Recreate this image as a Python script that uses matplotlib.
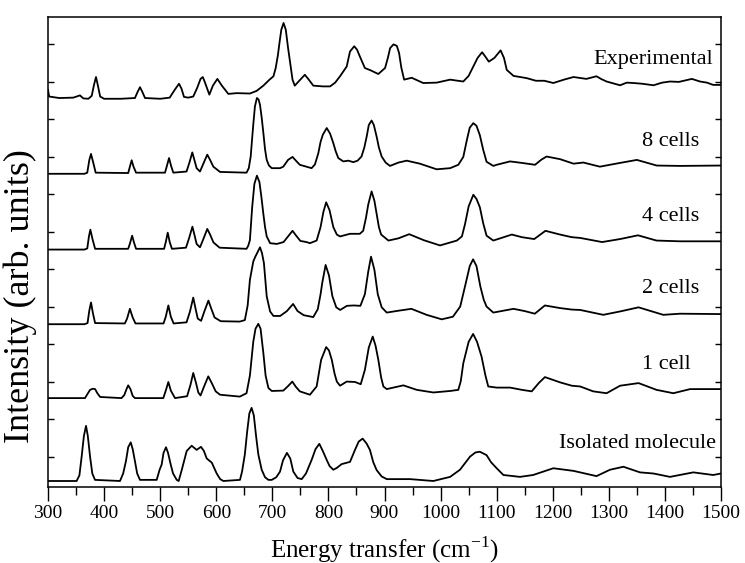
import numpy as np
import matplotlib
matplotlib.use('Agg')
import matplotlib.pyplot as plt
from matplotlib.ticker import MultipleLocator

# spectra: (energy transfer in cm-1, intensity above own baseline)
exp_pts = [(300, 0.22), (302, 0.04), (320, 0), (345, 0.01), (357, 0.07), (363, -0.01), (372, -0.02),
           (378, 0.06), (382, 0.35), (385.6, 0.56), (389, 0.33), (393, 0.04), (400, -0.02), (430, -0.02),
           (455, 0), (460, 0.17), (464, 0.29), (468, 0.17), (473, 0), (500, -0.02), (517, 0.01),
           (526, 0.22), (533.6, 0.38), (538, 0.25), (542.5, 0.03), (550, 0.01), (559, 0.04), (566, 0.27),
           (572, 0.51), (576, 0.56), (580, 0.41), (587.7, 0.09), (594, 0.33), (602, 0.51), (610, 0.33),
           (621.5, 0.11), (636.5, 0.13), (660, 0.12), (672, 0.19), (684, 0.33), (695, 0.49), (702, 0.58),
           (706, 0.8), (710, 1.15), (713, 1.5), (716, 1.82), (720, 2.0), (724, 1.82), (728, 1.34),
           (731.5, 0.97), (736, 0.49), (740, 0.33), (748, 0.46), (758, 0.62), (765, 0.49), (773, 0.33),
           (790, 0.31), (803, 0.31), (812, 0.41), (820.7, 0.58), (832.6, 0.84), (838.5, 1.24), (846, 1.38),
           (851, 1.29), (856, 1.11), (865, 0.8), (875, 0.74), (889, 0.64), (901, 0.8), (906, 1.07),
           (910, 1.33), (916, 1.43), (922, 1.39), (926, 1.2), (930, 0.81), (935, 0.49), (948.5, 0.54),
           (969, 0.4), (993, 0.41), (1017, 0.49), (1040.5, 0.44), (1050, 0.59), (1058, 0.83), (1066, 1.07),
           (1074, 1.22), (1080, 1.1), (1086, 0.97), (1096, 1.07), (1107, 1.27), (1113, 1.07), (1118, 0.75),
           (1130, 0.59), (1153.6, 0.53), (1170, 0.46), (1185, 0.46), (1201, 0.4), (1220, 0.49), (1237, 0.56),
           (1260, 0.51), (1278, 0.58), (1286, 0.51), (1296, 0.44), (1320, 0.34), (1332, 0.41), (1344, 0.4),
           (1360, 0.38), (1379.6, 0.34), (1395, 0.41), (1409, 0.44), (1425, 0.43), (1448, 0.51),
           (1462.6, 0.44), (1475, 0.41), (1486, 0.35), (1500, 0.35)]

cell8_pts = [(300, 0), (365, 0), (370, 0.03), (373.7, 0.37), (376.7, 0.53), (380.8, 0.29), (385, 0.03),
             (443, 0.02), (446, 0.19), (449.2, 0.36), (452.5, 0.19), (457, 0.03), (508.6, 0.03), (512, 0.21),
             (515.8, 0.42), (519.5, 0.21), (523.4, 0.03), (547, 0.06), (552, 0.29), (557.3, 0.57), (561, 0.37),
             (565, 0.15), (571, 0.06), (577, 0.27), (584, 0.51), (589, 0.37), (594.8, 0.19), (606.7, 0.05),
             (654, 0.03), (658, 0.15), (661.4, 0.46), (663.5, 0.85), (666, 1.31), (669, 1.8), (672.5, 2.02),
             (675.5, 1.98), (678, 1.84), (681, 1.5), (684, 1.09), (687, 0.65), (690, 0.37), (694, 0.22),
             (699, 0.15), (713.7, 0.15), (719.6, 0.19), (728, 0.37), (736, 0.45), (742, 0.35), (749, 0.24),
             (770, 0.15), (776, 0.25), (782, 0.55), (786, 0.85), (790, 1.04), (797, 1.22), (803, 1.07),
             (808.7, 0.82), (813, 0.6), (817.6, 0.42), (826.5, 0.33), (835.5, 0.35), (844.4, 0.31), (852, 0.35),
             (859, 0.46), (864, 0.7), (868.2, 0.99), (872, 1.3), (877, 1.42), (881, 1.3), (886, 0.99), (890, 0.7),
             (895, 0.46), (902, 0.3), (909.8, 0.21), (925, 0.3), (939.6, 0.35), (963, 0.27), (993, 0.12),
             (1017, 0.15), (1031.6, 0.24), (1040.5, 0.45), (1047, 0.91), (1052, 1.23), (1058.4, 1.35),
             (1064, 1.28), (1070, 1.03), (1076, 0.64), (1082, 0.32), (1094, 0.21), (1100, 0.24),
             (1123.8, 0.33), (1145, 0.29), (1168.4, 0.24), (1180, 0.38), (1189, 0.46), (1213, 0.39),
             (1237, 0.27), (1254.6, 0.3), (1284, 0.19), (1320, 0.29), (1350, 0.37), (1385.4, 0.22),
             (1427, 0.21), (1500, 0.22)]

cell4_pts = [(300, 0), (365, 0), (370, 0.03), (373, 0.35), (375.5, 0.53), (379.5, 0.27), (384, 0.02),
             (443, 0.02), (446.5, 0.18), (450, 0.37), (453.5, 0.18), (457, 0.02), (507, 0.02), (510, 0.2),
             (513.5, 0.45), (517, 0.2), (521, 0.02), (546, 0.05), (551.5, 0.3), (557.5, 0.61), (561, 0.4),
             (565, 0.15), (571, 0.06), (577, 0.28), (584, 0.55), (589, 0.4), (595, 0.19), (606, 0.05),
             (654, 0.02), (657, 0.1), (660, 0.25), (664, 1.12), (668, 1.75), (672.5, 1.97), (677, 1.8),
             (680.5, 1.4), (684, 0.95), (687, 0.6), (690, 0.35), (696, 0.17), (708, 0.15), (720, 0.2),
             (728, 0.35), (736, 0.5), (742, 0.38), (750, 0.23), (761, 0.2), (767, 0.17), (779, 0.24),
             (786, 0.6), (791, 1.0), (796, 1.26), (802, 1.05), (808.7, 0.6), (815, 0.4), (820.7, 0.35),
             (838.5, 0.42), (856, 0.42), (862, 0.5), (867, 0.85), (871, 1.2), (877, 1.55), (882, 1.3),
             (886, 0.95), (890, 0.6), (894, 0.4), (907, 0.24), (925, 0.3), (944, 0.41), (970, 0.25),
             (999, 0.11), (1029, 0.24), (1038, 0.35), (1043.6, 0.68), (1050, 1.15), (1058.4, 1.46),
             (1064, 1.35), (1070, 1.13), (1076, 0.7), (1082, 0.37), (1094, 0.24), (1127, 0.4), (1145, 0.33),
             (1167, 0.28), (1187, 0.5), (1213, 0.4), (1234, 0.33), (1249, 0.31), (1288, 0.2), (1320, 0.28),
             (1352, 0.38), (1385, 0.24), (1427, 0.22), (1500, 0.22)]

cell2_pts = [(300, 0), (365, 0), (370.5, 0.03), (373.5, 0.35), (376.7, 0.58), (380, 0.3), (384, 0.03),
             (437, 0.02), (441, 0.15), (446, 0.41), (451, 0.18), (456, 0.02), (506, 0.02), (510, 0.2),
             (514.6, 0.5), (519, 0.2), (524, 0.02), (547, 0.05), (553, 0.33), (559, 0.71), (563, 0.42),
             (567, 0.15), (573, 0.09), (579, 0.35), (586, 0.63), (591, 0.42), (597, 0.18), (608, 0.08),
             (642, 0.07), (651, 0.11), (656, 0.5), (660, 1.18), (666, 1.67), (669, 1.78), (673, 1.9),
             (678, 2.05), (681.5, 1.9), (685, 1.63), (690, 0.74), (696, 0.34), (702, 0.22), (714, 0.22),
             (726, 0.35), (737, 0.54), (745, 0.35), (756, 0.24), (773, 0.19), (781, 0.4), (786, 0.8),
             (789, 1.1), (795, 1.58), (801, 1.3), (807, 0.75), (814, 0.45), (821, 0.38), (833, 0.49),
             (845, 0.5), (857, 0.49), (865, 0.8), (871, 1.4), (876, 1.8), (882, 1.45), (888, 0.8), (895, 0.45),
             (904, 0.31), (925, 0.36), (948, 0.41), (975, 0.25), (1002, 0.13), (1022, 0.2), (1035, 0.47),
             (1045, 1.1), (1052, 1.55), (1058, 1.73), (1064, 1.55), (1071, 1.0), (1077, 0.65), (1082, 0.47),
             (1094, 0.31), (1130, 0.41), (1150, 0.35), (1168, 0.28), (1186, 0.5), (1213, 0.43), (1234, 0.39),
             (1249, 0.38), (1290, 0.25), (1320, 0.34), (1353, 0.45), (1397, 0.25), (1427, 0.28), (1500, 0.27)]

cell1_pts = [(300, 0), (366, 0), (370, 0.1), (375, 0.22), (380, 0.25), (384, 0.24), (388, 0.13), (393, 0.03),
             (431, 0), (436, 0.08), (440, 0.24), (443, 0.34), (447, 0.24), (451, 0.06), (455, 0), (505.6, 0),
             (510, 0.2), (514.6, 0.43), (519, 0.2), (526.5, 0), (548, 0.05), (554, 0.35), (559, 0.67),
             (564, 0.4), (568, 0.15), (572, 0.07), (578, 0.3), (585.8, 0.58), (592, 0.4), (599, 0.18),
             (606.7, 0.09), (642, 0.04), (654, 0.13), (660, 0.6), (666, 1.5), (670, 1.85), (675, 1.98),
             (679, 1.85), (684, 1.2), (688, 0.6), (693, 0.27), (699, 0.19), (719.6, 0.2), (728, 0.32),
             (735.6, 0.44), (742, 0.3), (749, 0.18), (767, 0.09), (779, 0.31), (787, 1.02), (796, 1.36),
             (801, 1.27), (806, 1.02), (811, 0.65), (815, 0.44), (820.7, 0.33), (832.6, 0.44), (847.4, 0.43),
             (857.6, 0.37), (865, 0.75), (872, 1.35), (879, 1.64), (884, 1.4), (889, 1.02), (894, 0.55),
             (898, 0.31), (904, 0.24), (933.6, 0.34), (957.5, 0.22), (987, 0.15), (1017, 0.19), (1031.6, 0.22),
             (1036, 0.45), (1040.5, 0.93), (1050, 1.5), (1058, 1.71), (1065, 1.5), (1073, 1.11), (1080, 0.6),
             (1085, 0.31), (1100, 0.28), (1124, 0.28), (1145, 0.22), (1162.5, 0.18), (1175, 0.4), (1186, 0.56),
             (1213, 0.42), (1234, 0.33), (1249, 0.31), (1272, 0.18), (1296, 0.13), (1320, 0.33), (1353, 0.4),
             (1385, 0.22), (1415, 0.13), (1445, 0.24), (1500, 0.24)]

iso_pts = [(300, 0), (351, 0), (356, 0.15), (360, 0.65), (364, 1.2), (367.8, 1.47), (371, 1.2), (375, 0.65),
           (379, 0.2), (383.8, 0.03), (428.4, 0), (434, 0.2), (439, 0.53), (443, 0.9), (447.5, 1.03),
           (451, 0.85), (455, 0.53), (459, 0.2), (464, 0.03), (493.8, 0.03), (499, 0.3), (502.7, 0.44),
           (506, 0.75), (510.4, 0.9), (514, 0.75), (518.8, 0.44), (523, 0.2), (529.5, 0.03), (533, 0.0),
           (538.4, 0.29), (547.3, 0.8), (556.2, 0.94), (565, 0.83), (572.8, 0.91), (578, 0.8), (583, 0.6),
           (592, 0.49), (600.8, 0.2), (607, 0.05), (612.6, 0), (642.3, 0.03), (646, 0.25), (651, 0.71),
           (655, 1.3), (659, 1.8), (663, 1.95), (667, 1.75), (671, 1.2), (675, 0.71), (681, 0.3), (687, 0.1),
           (693, 0.03), (699, 0.03), (707, 0.1), (713.7, 0.25), (719, 0.55), (726, 0.75), (732, 0.6),
           (737.4, 0.25), (745, 0.08), (752.4, 0.05), (760, 0.2), (770, 0.56), (777, 0.85), (783.8, 0.99),
           (790, 0.8), (797, 0.56), (802, 0.4), (808.7, 0.3), (815, 0.35), (823.6, 0.45), (838.5, 0.51),
           (847.4, 0.83), (854, 1.05), (861, 1.13), (868, 1.0), (874, 0.83), (880, 0.5), (886, 0.29),
           (895, 0.12), (904, 0.05), (945.5, 0.05), (987, 0), (1017, 0.11), (1034.6, 0.3), (1052.5, 0.65),
           (1062, 0.76), (1070, 0.78), (1082, 0.69), (1090, 0.5), (1100, 0.34), (1112, 0.16), (1141.6, 0.11),
           (1165, 0.16), (1201, 0.34), (1237, 0.27), (1278, 0.13), (1302, 0.3), (1326, 0.38), (1355.6, 0.23),
           (1379.6, 0.2), (1409, 0.11), (1450.6, 0.23), (1486, 0.16), (1500, 0.2)]

series = [iso_pts, cell1_pts, cell2_pts, cell4_pts, cell8_pts, exp_pts]
labels = ['Isolated molecule', '1 cell', '2 cells', '4 cells', '8 cells', 'Experimental']
offsets = [-0.65, 1.56, 3.53, 5.52, 7.54, 9.56]
label_pos = [(1211, 0.34), (1359, 2.45), (1359, 4.49), (1359, 6.41), (1359, 8.41), (1272, 10.6)]

plt.rcParams['font.family'] = ['Liberation Serif', 'DejaVu Serif']
plt.rcParams['mathtext.fontset'] = 'custom'
plt.rcParams['mathtext.rm'] = 'Liberation Serif'

fig = plt.figure(figsize=(7.45, 5.63), dpi=100)
ax = fig.add_axes([48/745, 1 - 487/563, 673/745, 470/563])

for pts, off, lab, (tx, ty) in zip(series, offsets, labels, label_pos):
    x, h = zip(*pts)
    ax.plot(x, np.array(h) + off, color='black', lw=1.3)
    ax.text(tx, ty, lab, fontsize=16, ha='left', va='center')

ax.set_xlim(300, 1500)
ax.set_ylim(-0.81, 11.72)
ax.xaxis.set_major_locator(MultipleLocator(100))
ax.xaxis.set_minor_locator(MultipleLocator(50))
ax.set_yticks(range(0, 12))
ax.tick_params(axis='x', which='major', direction='out', length=10, width=1, labelsize=14, pad=3, top=False)
ax.tick_params(axis='x', which='minor', direction='out', length=6, width=1, top=False)
ax.tick_params(axis='y', which='major', direction='in', length=4, width=1, left=True, right=True,
               labelleft=False)
for s in ax.spines.values():
    s.set_linewidth(1.1)

ax.set_xlabel('Energy transfer (cm$^{\\mathrm{-1}}$)', fontsize=18, va='top')
ax.xaxis.set_label_coords(0.5, -0.1)
ax.set_ylabel('Intensity (arb. units)', fontsize=26)
ax.yaxis.set_label_coords(-0.017, 0.406)

fig.savefig('out.png', dpi=100)
